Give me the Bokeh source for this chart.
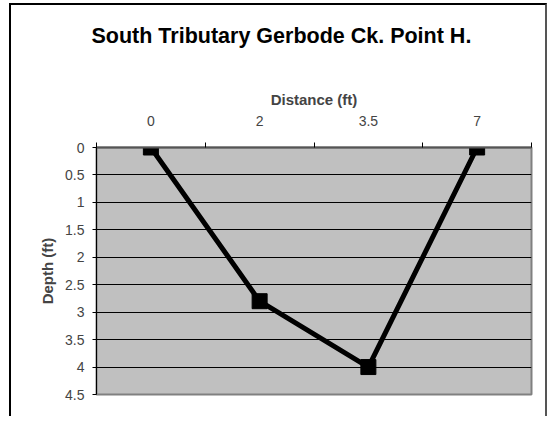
from bokeh.plotting import figure
from bokeh.models import Range1d, FixedTicker, ColumnDataSource, LinearAxis
from bokeh.embed import file_html
from bokeh.resources import INLINE

# Data
title_text = "South Tributary Gerbode Ck. Point H."
distance_labels = ["0", "2", "3.5", "7"]
depths = [0, 2.8, 4, 0]
depth_ticks = [0, 0.5, 1, 1.5, 2, 2.5, 3, 3.5, 4, 4.5]

positions = [i + 0.5 for i in range(len(distance_labels))]
src = ColumnDataSource(dict(x=positions, y=depths, label=distance_labels))

FONT = "Liberation Sans"

p = figure(width=538, height=413, output_backend="svg", toolbar_location=None,
           x_range=Range1d(0, len(distance_labels)), y_range=Range1d(4.5, 0),
           x_axis_location="above", title=title_text)
p.styles = {"border-left": "2px solid #000000", "border-top": "2px solid #000000",
            "border-right": "2px solid #555555", "margin-left": "9px", "margin-top": "3px"}

p.min_border_left = 85
p.min_border_right = 18
p.min_border_top = 142
p.min_border_bottom = 24

p.background_fill_color = "#C0C0C0"
p.border_fill_color = "white"
p.outline_line_color = "#808080"
p.outline_line_width = 2

p.title.align = "left"
p.title.offset = -5
p.title.text_font = FONT
p.title.text_font_size = "21.5px"
p.title.text_font_style = "bold"
p.title.text_color = "black"
p.title.standoff = 32

# x axis (top)
xa = p.xaxis[0]
xa.ticker = FixedTicker(ticks=positions, minor_ticks=list(range(len(distance_labels) + 1)))
xa.major_label_overrides = {pos: lab for pos, lab in zip(positions, distance_labels)}
xa.major_tick_line_color = None
xa.major_tick_in = 0
xa.major_tick_out = 0
xa.minor_tick_line_color = "black"
xa.minor_tick_in = 0
xa.minor_tick_out = 5
xa.axis_line_color = "#555555"
xa.axis_line_width = 2
xa.major_label_text_font = FONT
xa.major_label_text_font_size = "14px"
xa.major_label_standoff = 17
xa.axis_label = "Distance (ft)"
xa.axis_label_text_font = FONT
xa.axis_label_text_font_size = "15px"
xa.axis_label_text_font_style = "bold"
xa.axis_label_standoff = 5

# blank spacer between the axis title and the chart title
spacer = LinearAxis(ticker=FixedTicker(ticks=[]), axis_line_color=None,
                    major_tick_line_color=None, minor_tick_line_color=None,
                    major_tick_in=0, major_tick_out=0, minor_tick_out=0,
                    axis_label=" ", axis_label_text_font=FONT,
                    axis_label_text_font_size="1px",
                    axis_label_text_color="white",
                    axis_label_standoff=20)
p.add_layout(spacer, "above")

# y axis
ya = p.yaxis[0]
ya.ticker = FixedTicker(ticks=depth_ticks)
ya.major_label_overrides = {t: f"{t:g}" for t in depth_ticks}
ya.minor_tick_line_color = None
ya.major_tick_in = 0
ya.major_tick_out = 4
ya.major_tick_line_color = "black"
ya.axis_line_color = "black"
ya.major_label_text_font = FONT
ya.major_label_text_font_size = "14px"
ya.major_label_standoff = 8
ya.axis_label = "Depth (ft)"
ya.axis_label_text_font = FONT
ya.axis_label_text_font_size = "15px"
ya.axis_label_text_font_style = "bold"
ya.axis_label_standoff = 6

p.xgrid.grid_line_color = None
p.ygrid.ticker = FixedTicker(ticks=depth_ticks)
p.ygrid.grid_line_color = "black"
p.ygrid.grid_line_width = 1

p.line("x", "y", source=src, line_color="black", line_width=5)
p.scatter("x", "y", source=src, marker="square", size=15, fill_color="black", line_color="black")

open("out.html", "w").write(file_html(p, INLINE))
